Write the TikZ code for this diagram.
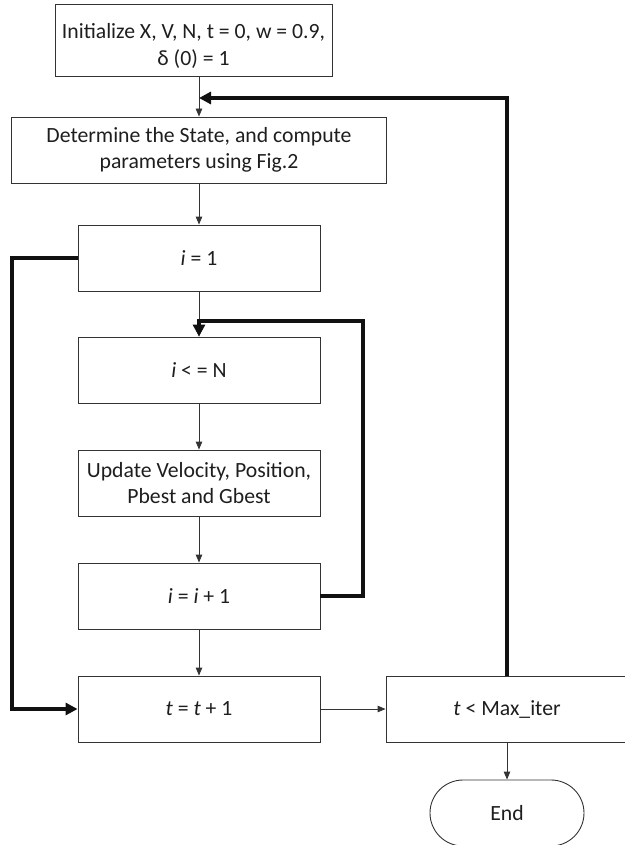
\documentclass[tikz,border=0pt]{standalone}
\usepackage{fontspec}
\setmainfont{Carlito}
\usetikzlibrary{arrows.meta}
\definecolor{linec}{HTML}{333333}
\definecolor{txtc}{HTML}{1E1E1E}
\definecolor{heavyc}{HTML}{111111}
\begin{document}
\begin{tikzpicture}[x=1pt,y=-1pt,
  box/.style={draw=linec, line width=0.9pt, inner sep=0pt, align=center,
    font=\fontsize{21.7}{26.5}\selectfont, text=txtc, minimum height=66pt},
  thinarrow/.style={draw=linec, line width=0.9pt, -{Triangle[length=8pt,width=6.5pt]}},
  heavyarrow/.style={draw=heavyc, line width=3.5pt, -{Triangle[length=12pt,width=12pt]}}]
\useasboundingbox (0,0) rectangle (624,845);
% nodes
\node[box, minimum width=277pt, minimum height=72pt] (init) at (193.5,40) {\rule{0pt}{27pt}Initialize X, V, N, t = 0, w = 0.9,\\ δ (0) = 1};
\node[box, minimum width=375pt] (det) at (199,150) {Determine the State, and compute\\ parameters using Fig.2};
\node[box, minimum width=242pt] (i1) at (199,258) {\textit{i} = 1};
\node[box, minimum width=242pt] (ile) at (199,370) {\textit{i} < = N};
\node[box, minimum width=242pt] (upd) at (199,483) {Update Velocity, Position,\\ Pbest and Gbest};
\node[box, minimum width=242pt] (inc) at (199,596) {\textit{i} = \textit{i} + 1};
\node[box, minimum width=242pt] (tt) at (199,709) {\textit{t} = \textit{t} + 1};
\node[box, minimum width=242pt] (tmax) at (507,709) {\textit{t} < Max\_iter};
\node[box, minimum width=154pt, rounded corners=33pt] (end) at (507,813) {End};
% junction coordinates
\coordinate (jtop) at (199,98);
\coordinate (rtop) at (363,321);
\coordinate (ltop) at (12,258);
% thin arrows
\draw[thinarrow] (det.north |- init.south) -- (det.north);
\draw[thinarrow] (det.south) -- (i1.north);
\draw[thinarrow] (i1.south) -- (ile.north);
\draw[thinarrow] (ile.south) -- (upd.north);
\draw[thinarrow] (upd.south) -- (inc.north);
\draw[thinarrow] (inc.south) -- (tt.north);
\draw[thinarrow] (tt.east) -- (tmax.west);
\draw[thinarrow] (tmax.south) -- (end.north);
% heavy loops
\draw[heavyarrow] (tmax.north) |- (jtop);
\draw[heavyarrow] (inc.east) -| (rtop) -| (ile.north);
\draw[heavyarrow] (i1.west) -- (ltop) |- (tt.west);
\end{tikzpicture}
\end{document}
